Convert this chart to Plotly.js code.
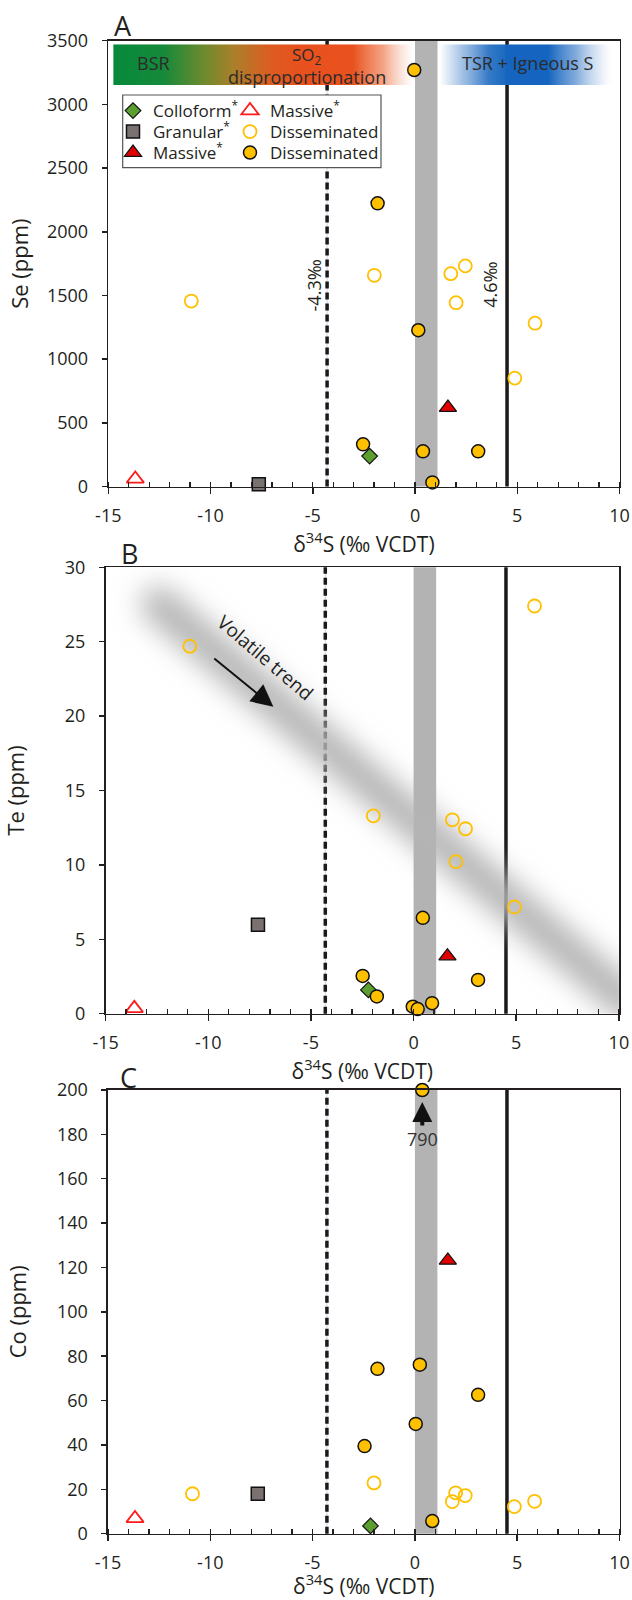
<!DOCTYPE html>
<html><head><meta charset="utf-8">
<script src="https://cdn.plot.ly/plotly-3.0.1.min.js"></script>
<style>html,body{margin:0;padding:0;background:#fff}#chart{width:632px;height:1600px}</style>
</head><body><div id="chart"></div>
<script>
// ---------- DATA ----------
// x = δ34S (‰ VCDT)
const xTickVals = [-15, -10, -5, 0, 5, 10];
const xTickText = ['-15', '-10', '-5', '0', '5', '10'];
const seTickVals = [0, 500, 1000, 1500, 2000, 2500, 3000, 3500];
const teTickVals = [0, 5, 10, 15, 20, 25, 30];
const coTickVals = [0, 20, 40, 60, 80, 100, 120, 140, 160, 180, 200];

const seriesNames = ['Colloform<sup>*</sup>', 'Granular<sup>*</sup>', 'Massive<sup>*</sup>',
                     'Massive<sup>*</sup>', 'Disseminated', 'Disseminated'];

// Panel A: Se (ppm)
const seColloformX = [-2.22], seColloformY = [239];
const seGranularX = [-7.64], seGranularY = [18];
const seMassiveX = [1.61], seMassiveY = [620];
const seMassiveOpenX = [-13.68], seMassiveOpenY = [60];
const seDissOpenX = [-10.94, -1.99, 1.75, 2.46, 2.01, 5.87, 4.88];
const seDissOpenY = [1456, 1658, 1671, 1732, 1443, 1282, 851];
const seDissX = [-0.04, -1.83, 0.16, -2.54, 0.39, 3.09, 0.85];
const seDissY = [3270, 2223, 1227, 331, 276, 276, 32];

// Panel B: Te (ppm)
const teColloformX = [-2.2], teColloformY = [1.6];
const teGranularX = [-7.58], teGranularY = [5.97];
const teMassiveX = [1.65], teMassiveY = [3.87];
const teMassiveOpenX = [-13.6], teMassiveOpenY = [0.36];
const teDissOpenX = [-10.9, -1.96, 1.89, 2.53, 2.06, 4.91, 5.89];
const teDissOpenY = [24.7, 13.3, 13.03, 12.43, 10.22, 7.17, 27.4];
const teDissX = [0.45, -2.48, -1.79, 3.14, 0.9, -0.04, 0.2];
const teDissY = [6.44, 2.54, 1.16, 2.27, 0.71, 0.47, 0.31];

// Panel C: Co (ppm)  (the point drawn at 200 is 790 ppm, off scale)
const coColloformX = [-2.17], coColloformY = [3.5];
const coGranularX = [-7.68], coGranularY = [18.0];
const coMassiveX = [1.61], coMassiveY = [123.2];
const coMassiveOpenX = [-13.68], coMassiveOpenY = [6.9];
const coDissOpenX = [-10.87, -2.0, 1.99, 1.83, 2.46, 4.86, 5.85];
const coDissOpenY = [18.0, 22.9, 18.4, 14.5, 17.2, 12.2, 14.6];
const coDissX = [0.36, -1.83, 0.24, 3.09, 0.04, -2.46, 0.85];
const coDissY = [200, 74.3, 76.2, 62.6, 49.5, 39.5, 5.7];
const coOffScaleValue = '790';

// Reference lines / fields (‰)
const bsrLimit = -4.3;
const igneousLimit = 4.5;
const mantleBand = [0, 1.1];
const bsrLabel = '-4.3‰', igneousLabel = '4.6‰';
const sourceBarBSR = [-14.76, -0.09];     // gradient bar extent
const sourceBarTSR = [1.2, 9.77];
const sourceBarY = [3152, 3472];
const trendX = [-12.4, 10.5], trendY = [27.5, 0.7];   // volatile trend band
const arrowTail = [-9.78, 23.95], arrowHead = [-6.83, 20.63];

// ---------- STYLE ----------
const FONT = 'Open Sans, Noto Sans, sans-serif';
const INK = '#231f20';
const GOLD = '#ffc000';

const markerStyles = [
  {symbol: 'diamond', size: 12, color: '#5c9e2f', line: {color: '#111', width: 1.2}},
  {symbol: 'square', size: 13, color: '#7a7171', line: {color: '#111', width: 1.5}},
  {symbol: 'triangle-up', size: 15, color: '#e00000', line: {color: '#111', width: 1.2}},
  {symbol: 'triangle-up-open', size: 15, color: '#ff1a1a', line: {color: '#ff1a1a', width: 1.8}},
  {symbol: 'circle-open', size: 13, color: GOLD, line: {color: GOLD, width: 1.8}},
  {symbol: 'circle', size: 13, color: GOLD, line: {color: '#111', width: 1.5}}
];
// one legend per entry so the 2-column grid sits exactly as in the reference
const legendOf = ['legend', 'legend3', 'legend5', 'legend2', 'legend4', 'legend6'];

const panels = [
  {xa: 'x', ya: 'y', xs: [seColloformX, seGranularX, seMassiveX, seMassiveOpenX, seDissOpenX, seDissX],
   ys: [seColloformY, seGranularY, seMassiveY, seMassiveOpenY, seDissOpenY, seDissY]},
  {xa: 'x2', ya: 'y2', xs: [teColloformX, teGranularX, teMassiveX, teMassiveOpenX, teDissOpenX, teDissX],
   ys: [teColloformY, teGranularY, teMassiveY, teMassiveOpenY, teDissOpenY, teDissY]},
  {xa: 'x3', ya: 'y3', xs: [coColloformX, coGranularX, coMassiveX, coMassiveOpenX, coDissOpenX, coDissX],
   ys: [coColloformY, coGranularY, coMassiveY, coMassiveOpenY, coDissOpenY, coDissY]}
];

const traces = [];
panels.forEach((p, pi) => {
  for (let k = 0; k < 6; k++) {
    traces.push({
      type: 'scatter', mode: 'markers', x: p.xs[k], y: p.ys[k],
      xaxis: p.xa, yaxis: p.ya, name: seriesNames[k],
      legend: legendOf[k], showlegend: pi === 0,
      marker: markerStyles[k], cliponaxis: false, hoverinfo: 'x+y'
    });
  }
});

// ---------- LAYOUT ----------
const W = 632, H = 1600;
const px2x = v => v / W, px2y = v => 1 - v / H;
const dom = {
  A: {x: [108.3, 619.5], y: [40.7, 486.5]},
  B: {x: [105.6, 618.9], y: [567.3, 1013.7]},
  C: {x: [108.0, 619.5], y: [1090.0, 1533.7]}
};
function xDomain(d) { return [px2x(d.x[0]), px2x(d.x[1])]; }
function yDomain(d) { return [px2y(d.y[1]), px2y(d.y[0])]; }

const xTitle = 'δ<sup>34</sup>S (‰ VCDT)';
function xAxis(d, anchor) {
  return {
    domain: xDomain(d), anchor: anchor, range: [-15, 10], autorange: false,
    tickmode: 'array', tickvals: xTickVals, ticktext: xTickText,
    ticks: 'outside', ticklen: 6, tickwidth: 1.5, tickcolor: INK, ticklabelstandoff: 6,
    minor: {tickmode: 'linear', tick0: 0, dtick: 1, ticks: 'inside', ticklen: 5, tickwidth: 1.3, tickcolor: INK, showgrid: false},
    showline: true, linecolor: INK, linewidth: 1.6, mirror: true,
    showgrid: false, zeroline: false, automargin: false, fixedrange: true,
    tickfont: {family: FONT, size: 18, color: INK},
    title: {text: xTitle, font: {family: FONT, size: 21, color: INK}, standoff: 8}
  };
}
function xOverlay(base, anchor) {
  return {overlaying: base, anchor: anchor, range: [-15, 10], autorange: false,
    tickmode: 'array', tickvals: xTickVals, ticks: 'inside', ticklen: 6, tickwidth: 1.5, tickcolor: INK,
    showticklabels: false, showline: false, showgrid: false, zeroline: false, fixedrange: true};
}
function yAxis(d, anchor, range, vals, title, standoff) {
  return {
    domain: yDomain(d), anchor: anchor, range: range, autorange: false,
    tickmode: 'array', tickvals: vals, ticks: 'outside', ticklen: 5, tickwidth: 1.5, tickcolor: INK,
    ticklabelstandoff: 10,
    showline: true, linecolor: INK, linewidth: 1.6, mirror: true,
    showgrid: false, zeroline: false, automargin: false, fixedrange: true,
    tickfont: {family: FONT, size: 18, color: INK},
    title: {text: title, font: {family: FONT, size: 22, color: INK}, standoff: standoff}
  };
}

// reference-line shapes for every panel
const shapes = [];
[['x', 'y'], ['x2', 'y2'], ['x3', 'y3']].forEach(([xr, yr]) => {
  const ydom = yr + ' domain';
  shapes.push({type: 'rect', xref: xr, yref: ydom, x0: mantleBand[0], x1: mantleBand[1], y0: 0, y1: 1,
    fillcolor: '#b3b3b3', line: {width: 0}, layer: 'below'});
  shapes.push({type: 'line', xref: xr, yref: ydom, x0: bsrLimit, x1: bsrLimit, y0: 0, y1: 1,
    line: {color: '#cfd0ee', width: 1}, layer: 'below'});
  shapes.push({type: 'line', xref: xr, yref: ydom, x0: bsrLimit, x1: bsrLimit, y0: 0, y1: 1,
    line: {color: '#1a1a1a', width: 3.5, dash: '7px,4px'}, layer: 'below'});
  shapes.push({type: 'line', xref: xr, yref: ydom, x0: igneousLimit, x1: igneousLimit, y0: 0, y1: 1,
    line: {color: '#1a1a1a', width: 3.5}, layer: 'below'});
});
// legend frame
shapes.push({type: 'rect', xref: 'paper', yref: 'paper', x0: px2x(122.7), x1: px2x(381), y0: px2y(167.7), y1: px2y(95),
  fillcolor: '#ffffff', line: {color: '#555', width: 1.2}, layer: 'above'});

// gradient bar images (SVG)
function gradientBar(stops) {
  const s = "<svg xmlns='http://www.w3.org/2000/svg' width='400' height='40' viewBox='0 0 400 40' preserveAspectRatio='none'>" +
    "<defs><linearGradient id='g' x1='0' y1='0' x2='1' y2='0'>" +
    stops.map(st => "<stop offset='" + st[0] + "' stop-color='" + st[1] + "' stop-opacity='" + st[2] + "'/>").join('') +
    "</linearGradient></defs><rect x='0' y='0' width='400' height='40' fill='url(#g)'/></svg>";
  return 'data:image/svg+xml;charset=utf-8,' + encodeURIComponent(s);
}
const bsrStops = [[0, '#06893b', 1], [0.17, '#17893a', 1], [0.30, '#6c8a2e', 1], [0.40, '#a9802a', 1],
  [0.52, '#dc5d22', 1], [0.62, '#e8511d', 1], [0.80, '#e9521f', 1], [0.90, '#f0845a', 0.75], [1, '#f6b8a0', 0]];
const tsrStops = [[0, '#4a86cc', 0], [0.12, '#3f7fca', 0.45], [0.28, '#1f6cc0', 0.9], [0.40, '#1565c0', 1],
  [0.62, '#1565c0', 1], [0.78, '#3f7fca', 0.65], [0.92, '#7ea8dc', 0.2], [1, '#ffffff', 0]];

function trendBand() {
  const Wp = dom.B.x[1] - dom.B.x[0], Hp = dom.B.y[1] - dom.B.y[0];
  const fx = v => (v + 15) / 25 * Wp, fy = v => (30 - v) / 30 * Hp;
  const s = "<svg xmlns='http://www.w3.org/2000/svg' width='" + Wp + "' height='" + Hp + "' viewBox='0 0 " + Wp + " " + Hp + "'>" +
    "<defs><filter id='f' filterUnits='userSpaceOnUse' x='-100' y='-100' width='" + (Wp + 200) + "' height='" + (Hp + 200) + "'>" +
    "<feGaussianBlur stdDeviation='14'/></filter></defs>" +
    "<line x1='" + fx(trendX[0]) + "' y1='" + fy(trendY[0]) + "' x2='" + fx(trendX[1]) + "' y2='" + fy(trendY[1]) +
    "' stroke='#b4b4b4' stroke-width='36' stroke-linecap='round' filter='url(#f)'/></svg>";
  return 'data:image/svg+xml;charset=utf-8,' + encodeURIComponent(s);
}

const images = [
  {source: gradientBar(bsrStops), xref: 'x', yref: 'y', x: sourceBarBSR[0], y: sourceBarY[1],
   sizex: sourceBarBSR[1] - sourceBarBSR[0], sizey: sourceBarY[1] - sourceBarY[0],
   xanchor: 'left', yanchor: 'top', sizing: 'stretch', layer: 'above'},
  {source: gradientBar(tsrStops), xref: 'x', yref: 'y', x: sourceBarTSR[0], y: sourceBarY[1],
   sizex: sourceBarTSR[1] - sourceBarTSR[0], sizey: sourceBarY[1] - sourceBarY[0],
   xanchor: 'left', yanchor: 'top', sizing: 'stretch', layer: 'above'},
  {source: trendBand(), xref: 'x2', yref: 'y2', x: -15, y: 30, sizex: 25, sizey: 30,
   xanchor: 'left', yanchor: 'top', sizing: 'stretch', layer: 'below'}
];

const tf = (size, color) => ({family: FONT, size: size, color: color || INK});
const ctr = {xanchor: 'center', yanchor: 'middle', showarrow: false};
const annotations = [
  // panel letters
  Object.assign({xref: 'paper', yref: 'paper', x: px2x(123.3), y: px2y(25), text: 'A', font: tf(27)}, ctr),
  Object.assign({xref: 'paper', yref: 'paper', x: px2x(129), y: px2y(553), text: 'B', font: tf(27)}, ctr),
  Object.assign({xref: 'paper', yref: 'paper', x: px2x(128), y: px2y(1077), text: 'C', font: tf(27)}, ctr),
  // source bar labels
  Object.assign({xref: 'x', yref: 'y', x: -12.8, y: 3323, text: 'BSR', font: tf(18, '#2b2b2b')}, ctr),
  Object.assign({xref: 'x', yref: 'y', x: -5.3, y: 3384, text: 'SO<sub>2</sub>', font: tf(17, '#2b2b2b')}, ctr),
  Object.assign({xref: 'x', yref: 'y', x: -5.3, y: 3212, text: 'disproportionation', font: tf(18, '#2b2b2b')}, ctr),
  Object.assign({xref: 'x', yref: 'y', x: 5.53, y: 3323, text: 'TSR + Igneous S', font: tf(18, '#2b2b2b')}, ctr),
  // reference line labels
  Object.assign({xref: 'x', yref: 'y', x: -4.92, y: 1582, text: bsrLabel, textangle: -90, font: tf(18)}, ctr),
  Object.assign({xref: 'x', yref: 'y', x: 3.66, y: 1582, text: igneousLabel, textangle: -90, font: tf(18)}, ctr),
  // volatile trend
  Object.assign({xref: 'x2', yref: 'y2', x: -7.2, y: 23.9, text: 'Volatile trend', textangle: 40.6, font: tf(19)}, ctr),
  {xref: 'x2', yref: 'y2', axref: 'x2', ayref: 'y2', x: arrowHead[0], y: arrowHead[1], ax: arrowTail[0], ay: arrowTail[1],
   text: '', showarrow: true, arrowhead: 2, arrowsize: 2.2, arrowwidth: 2, arrowcolor: '#111'},
  // off-scale value
  {xref: 'x3', yref: 'y3', x: coDissX[0], y: 194.6, text: coOffScaleValue, showarrow: true, ax: 0, ay: 37,
   arrowhead: 2, arrowsize: 1, arrowwidth: 4, arrowcolor: '#111', font: tf(18, '#333')}
];

const legendBase = {
  bgcolor: 'rgba(0,0,0,0)', borderwidth: 0, font: tf(17), tracegroupgap: 0,
  xanchor: 'left', yanchor: 'middle', orientation: 'v', itemwidth: 30
};
const legCol = [113, 230], legRow = [111, 132, 153];
const legPos = (c, r) => Object.assign({}, legendBase, {x: px2x(legCol[c]), y: px2y(legRow[r])});

const layout = {
  width: W, height: H, margin: {l: 0, r: 0, t: 0, b: 0},
  paper_bgcolor: '#ffffff', plot_bgcolor: '#ffffff',
  font: {family: FONT, color: INK},
  showlegend: true,
  legend: legPos(0, 0), legend2: legPos(1, 0),
  legend3: legPos(0, 1), legend4: legPos(1, 1),
  legend5: legPos(0, 2), legend6: legPos(1, 2),
  xaxis: xAxis(dom.A, 'y'),
  xaxis2: xAxis(dom.B, 'y2'),
  xaxis3: xAxis(dom.C, 'y3'),
  xaxis4: xOverlay('x', 'y'),
  xaxis5: xOverlay('x2', 'y2'),
  xaxis6: xOverlay('x3', 'y3'),
  yaxis: yAxis(dom.A, 'x', [0, 3500], seTickVals, 'Se (ppm)', 12),
  yaxis2: yAxis(dom.B, 'x2', [0, 30], teTickVals, 'Te (ppm)', 34),
  yaxis3: yAxis(dom.C, 'x3', [0, 200], coTickVals, 'Co (ppm)', 24),
  shapes: shapes, images: images, annotations: annotations
};

Plotly.newPlot('chart', traces, layout, {displayModeBar: false, staticPlot: true});
</script>
</body></html>
